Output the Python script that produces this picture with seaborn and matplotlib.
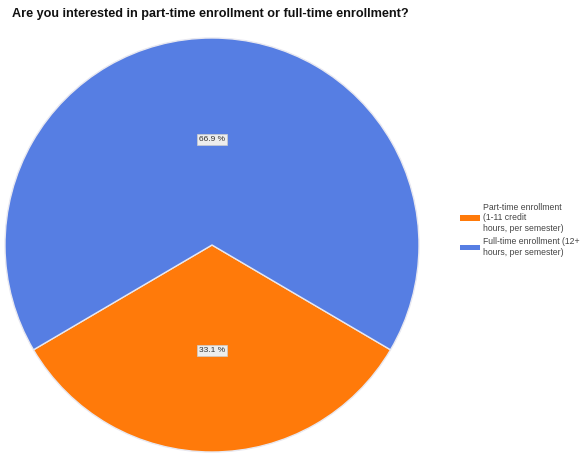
import matplotlib
matplotlib.use("Agg")
import matplotlib.pyplot as plt
import numpy as np
import seaborn as sns
from matplotlib.patches import Patch

# Survey responses
categories = ["Part-time enrollment\n(1-11 credit\nhours, per semester)",
              "Full-time enrollment (12+\nhours, per semester)"]
shares = [33.1, 66.9]
pct_labels = ["33.1 %", "66.9 %"]
title = "Are you interested in part-time enrollment or full-time enrollment?"

sns.set_theme(style="white")
plt.rcParams["font.family"] = ["Liberation Sans", "DejaVu Sans"]
colors = ["#FF7A0A", "#567EE3"]

W, H = 587, 455
fig = plt.figure(figsize=(W / 100, H / 100), dpi=100)
cx, cy, r = 212, 245, 207
ax = fig.add_axes([(cx - r) / W, (H - cy - r) / H, 2 * r / W, 2 * r / H])

# Orange slice centred on the bottom of the pie
start = 270 - shares[0] / 100 * 180
wedges, _ = ax.pie(shares, colors=colors, startangle=start, counterclock=True,
                   radius=1.0, wedgeprops=dict(edgecolor="#E8E8F0", linewidth=1.0))
ax.set_xlim(-1, 1)
ax.set_ylim(-1, 1)
ax.set_aspect("equal")
ax.axis("off")

for w, lab in zip(wedges, pct_labels):
    mid = np.deg2rad((w.theta1 + w.theta2) / 2)
    ax.text(0.51 * np.cos(mid), 0.51 * np.sin(mid), lab, ha="center", va="center",
            fontsize=6, color="#333333",
            bbox=dict(boxstyle="square,pad=0.2", facecolor="#EDEDED",
                      edgecolor="#CCCCCC", linewidth=0.5))

fig.text(12 / W, 1 - 14 / H, title, ha="left", va="center", fontsize=9.1,
         fontweight="bold", color="#111111")

handles = [Patch(facecolor=c, edgecolor="none") for c in colors]
fig.legend(handles, categories, loc="upper left", bbox_to_anchor=(452 / W, 1 - 195 / H),
           frameon=False, fontsize=6.2, handlelength=2.3, handleheight=0.65,
           handletextpad=0.35, labelspacing=0.55, labelcolor="#444444")

fig.savefig("out.png", dpi=100, facecolor="white")
